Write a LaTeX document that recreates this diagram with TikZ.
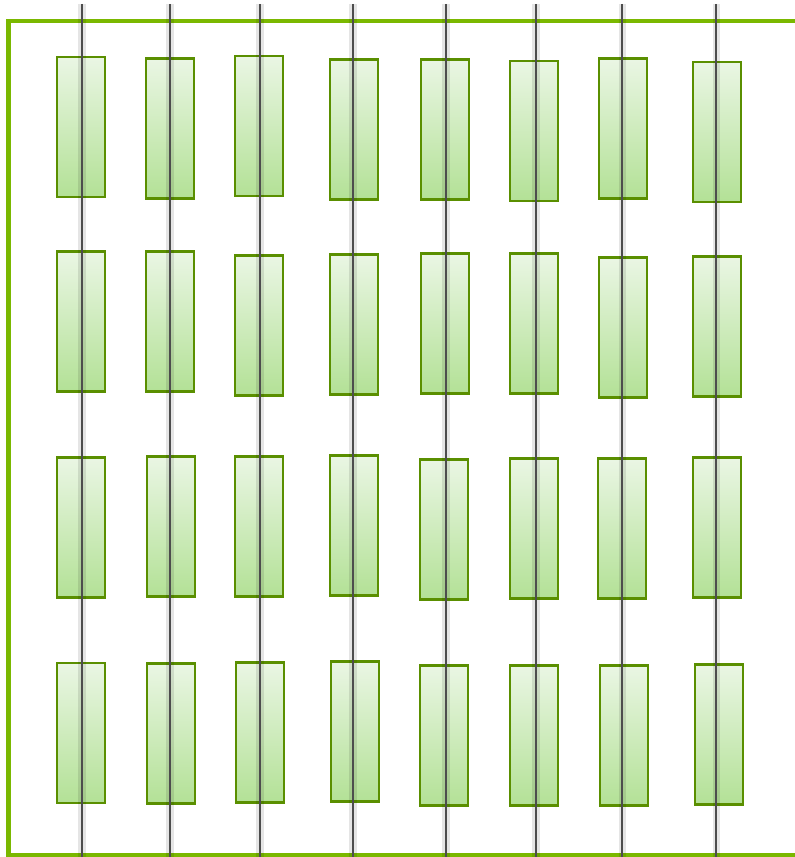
\documentclass[tikz,border=0pt]{standalone}
\usepackage{tikz}
\definecolor{framegreen}{HTML}{7AB800}
\definecolor{edgegreen}{HTML}{5A8F00}
\definecolor{celltop}{HTML}{EAF6E4}
\definecolor{cellbot}{HTML}{B3E196}
\definecolor{railgray}{HTML}{4D4D4D}

\begin{document}
\begin{tikzpicture}[
    x=0.02cm, y=-0.02cm,
    cell/.style={draw=edgegreen, line width=1.3pt, minimum width=0.96cm, minimum height=2.8cm, inner sep=0pt, top color=celltop, bottom color=cellbot},
    rail/.style={draw=railgray, line width=1.5pt},
    halo/.style={draw=black, opacity=0.1, line width=4pt},
    frame/.style={draw=framegreen, line width=2.8pt}
]
\useasboundingbox (0,0) rectangle (794,857);

% outer frame, open on the right
\draw[frame] (800,21) -- (8.5,21) -- (8.5,855) -- (800,855);

% row 1
\node[cell] (c11) at (81,127) {};
\node[cell] (c12) at (170,128.5) {};
\node[cell] (c13) at (259,126) {};
\node[cell] (c14) at (354,129.5) {};
\node[cell] (c15) at (445,129.5) {};
\node[cell] (c16) at (534,131) {};
\node[cell] (c17) at (623,128.5) {};
\node[cell] (c18) at (717,132) {};

% row 2
\node[cell] (c21) at (81,321.5) {};
\node[cell] (c22) at (170,321.5) {};
\node[cell] (c23) at (259,325.5) {};
\node[cell] (c24) at (354,324.5) {};
\node[cell] (c25) at (445,323.5) {};
\node[cell] (c26) at (534,323.5) {};
\node[cell] (c27) at (623,327.5) {};
\node[cell] (c28) at (717,326.5) {};

% row 3
\node[cell] (c31) at (81,527.5) {};
\node[cell] (c32) at (171,526.5) {};
\node[cell] (c33) at (259,526.5) {};
\node[cell] (c34) at (354,525.5) {};
\node[cell] (c35) at (444,529.5) {};
\node[cell] (c36) at (534,528.5) {};
\node[cell] (c37) at (622,528.5) {};
\node[cell] (c38) at (717,527.5) {};

% row 4
\node[cell] (c41) at (81,733) {};
\node[cell] (c42) at (171,733.5) {};
\node[cell] (c43) at (260,732.5) {};
\node[cell] (c44) at (355,731.5) {};
\node[cell] (c45) at (444,735.5) {};
\node[cell] (c46) at (534,735.5) {};
\node[cell] (c47) at (624,735.5) {};
\node[cell] (c48) at (719,734.5) {};

% vertical rails, soft shadow first
\draw[halo] (82,4) -- (82,857);
\draw[halo] (170,4) -- (170,857);
\draw[halo] (260,4) -- (260,857);
\draw[halo] (353,4) -- (353,857);
\draw[halo] (446,4) -- (446,857);
\draw[halo] (536,4) -- (536,857);
\draw[halo] (622,4) -- (622,857);
\draw[halo] (716,4) -- (716,857);

\draw[rail] (82,4) -- (82,857);
\draw[rail] (170,4) -- (170,857);
\draw[rail] (260,4) -- (260,857);
\draw[rail] (353,4) -- (353,857);
\draw[rail] (446,4) -- (446,857);
\draw[rail] (536,4) -- (536,857);
\draw[rail] (622,4) -- (622,857);
\draw[rail] (716,4) -- (716,857);

\end{tikzpicture}
\end{document}
